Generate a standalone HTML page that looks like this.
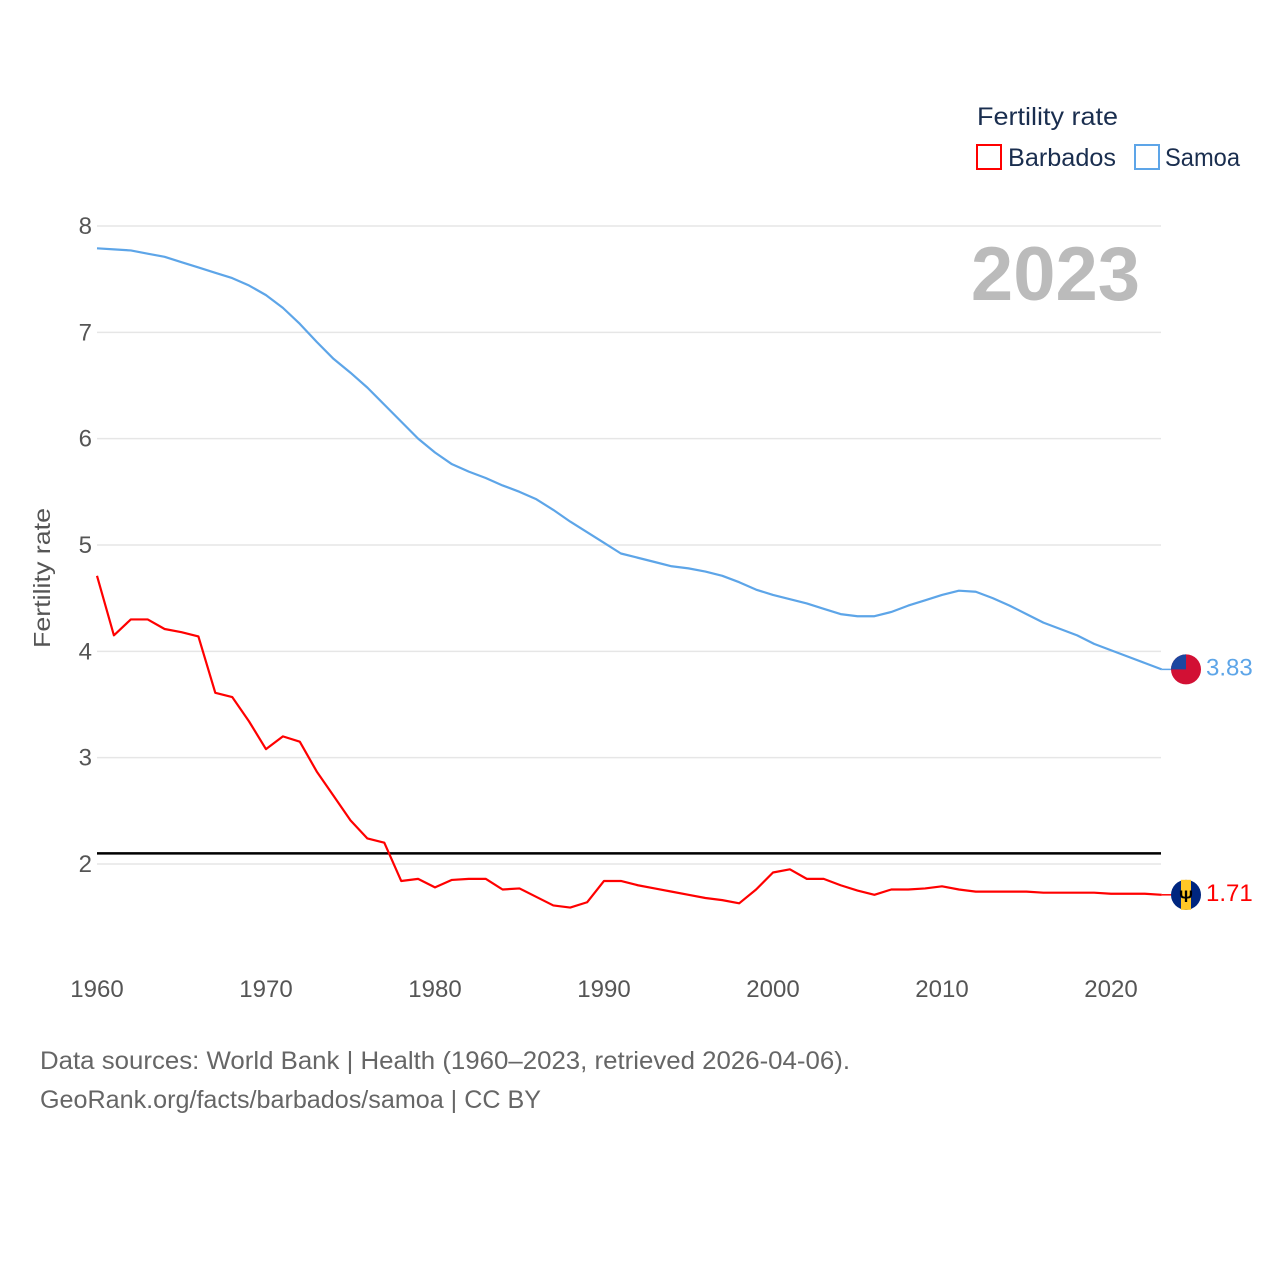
<!DOCTYPE html>
<html><head><meta charset="utf-8"><style>
body{margin:0;background:#fff;}
svg text{font-family:"Liberation Sans",sans-serif;}
</style></head><body>
<svg id="chart" width="1280" height="1280" viewBox="0 0 1280 1280" xmlns="http://www.w3.org/2000/svg">
<rect width="1280" height="1280" fill="#fff"/>
<g id="grid"></g>
<g id="yticks"></g>
<g id="xticks"></g>
<text transform="translate(50,578) rotate(-90)" text-anchor="middle" font-size="23" fill="#555" textLength="140" lengthAdjust="spacingAndGlyphs">Fertility rate</text>
<text x="1140" y="300" text-anchor="end" font-size="76" font-weight="bold" fill="#bbb">2023</text>
<g id="series"></g>
<text x="977" y="125" font-size="25" fill="#1a2e4f" textLength="141" lengthAdjust="spacingAndGlyphs">Fertility rate</text>
<rect x="977" y="145" width="24" height="24" fill="none" stroke="#f00" stroke-width="2"/>
<text x="1008" y="166" font-size="25" fill="#1a2e4f" textLength="108" lengthAdjust="spacingAndGlyphs">Barbados</text>
<rect x="1135" y="145" width="24" height="24" fill="none" stroke="#5da5e8" stroke-width="2"/>
<text x="1165" y="166" font-size="25" fill="#1a2e4f" textLength="75" lengthAdjust="spacingAndGlyphs">Samoa</text>
<text x="40" y="1069" font-size="25" fill="#666" textLength="810" lengthAdjust="spacingAndGlyphs">Data sources: World Bank | Health (1960–2023, retrieved 2026-04-06).</text>
<text x="40" y="1108" font-size="25" fill="#666" textLength="501" lengthAdjust="spacingAndGlyphs">GeoRank.org/facts/barbados/samoa | CC BY</text>
</svg>
<script>
const years = Array.from({length:64},(_,i)=>1960+i);
const barbados = [4.71,4.15,4.30,4.30,4.21,4.18,4.14,3.61,3.57,3.34,3.08,3.20,3.15,2.87,2.64,2.41,2.24,2.20,1.84,1.86,1.78,1.85,1.86,1.86,1.76,1.77,1.69,1.61,1.59,1.64,1.84,1.84,1.80,1.77,1.74,1.71,1.68,1.66,1.63,1.76,1.92,1.95,1.86,1.86,1.80,1.75,1.71,1.76,1.76,1.77,1.79,1.76,1.74,1.74,1.74,1.74,1.73,1.73,1.73,1.73,1.72,1.72,1.72,1.71];
const samoa = [7.79,7.78,7.77,7.74,7.71,7.66,7.61,7.56,7.51,7.44,7.35,7.23,7.08,6.91,6.75,6.62,6.48,6.32,6.16,6.00,5.87,5.76,5.69,5.63,5.56,5.50,5.43,5.33,5.22,5.12,5.02,4.92,4.88,4.84,4.80,4.78,4.75,4.71,4.65,4.58,4.53,4.49,4.45,4.40,4.35,4.33,4.33,4.37,4.43,4.48,4.53,4.57,4.56,4.50,4.43,4.35,4.27,4.21,4.15,4.07,4.01,3.95,3.89,3.83];
const yTicks = [2,3,4,5,6,7,8];
const xTicks = [1960,1970,1980,1990,2000,2010,2020];
const replacement = 2.1;

const NS="http://www.w3.org/2000/svg";
const X = y => 97 + (y-1960)*16.9;
const Y = v => 226 + (8-v)*106.33;
function mk(tag, attrs, parent){const e=document.createElementNS(NS,tag);for(const k in attrs)e.setAttribute(k,attrs[k]);parent.appendChild(e);return e;}
const grid=document.getElementById('grid'), yt=document.getElementById('yticks'), xt=document.getElementById('xticks'), ser=document.getElementById('series');
yTicks.forEach(v=>{
  const l=mk('line',{x1:97,x2:1161,y1:Y(v),y2:Y(v),stroke:'#e6e6e6','stroke-width':1.5},grid);
  
  
  const t=mk('text',{x:92,y:Y(v)+8,'text-anchor':'end','font-size':24,fill:'#555'},yt);
  t.textContent=v;
  
  
});
xTicks.forEach(v=>{
  const t=mk('text',{x:X(v),y:997,'text-anchor':'middle','font-size':24,fill:'#555'},xt);
  t.textContent=v;
  
  
});
const rl=mk('line',{x1:97,x2:1161,y1:Y(replacement),y2:Y(replacement),stroke:'#000','stroke-width':2.5},ser);


function series(data,color,name){
  const p=mk('polyline',{points:data.map((v,i)=>X(years[i])+','+Y(v)).join(' '),fill:'none',stroke:color,'stroke-width':2.2,'stroke-linejoin':'round'},ser);
  
  
  const last=data[data.length-1], ly=Y(last), lx=X(years[years.length-1]);
  const c=mk('line',{x1:lx,x2:1172,y1:ly,y2:ly,stroke:color,'stroke-width':1.5},ser);
  
  
  const g=mk('g',{},ser);
  
  
  if(name==='samoa'){
    mk('circle',{cx:1186,cy:ly,r:15,fill:'#d21034'},g);
    mk('path',{d:`M1171 ${ly} A15 15 0 0 1 1186 ${ly-15} L1186 ${ly} Z`,fill:'#1c47a0'},g);
  } else {
    mk('circle',{cx:1186,cy:ly,r:15,fill:'#00267f'},g);
    mk('rect',{x:1181,y:ly-15,width:10,height:30,fill:'#ffc726'},g);
    const tr=mk('text',{x:1186,y:ly+7,'text-anchor':'middle','font-size':17,'font-weight':'bold',fill:'#000'},g);
    tr.textContent='Ψ';
  }
  const t=mk('text',{x:1206,y:ly+6,'font-size':24,fill:color},ser);
  t.textContent=last.toFixed(2);
  
  
}
series(samoa,'#5da5e8','samoa');
series(barbados,'#f00','barbados');
</script>
</body></html>
